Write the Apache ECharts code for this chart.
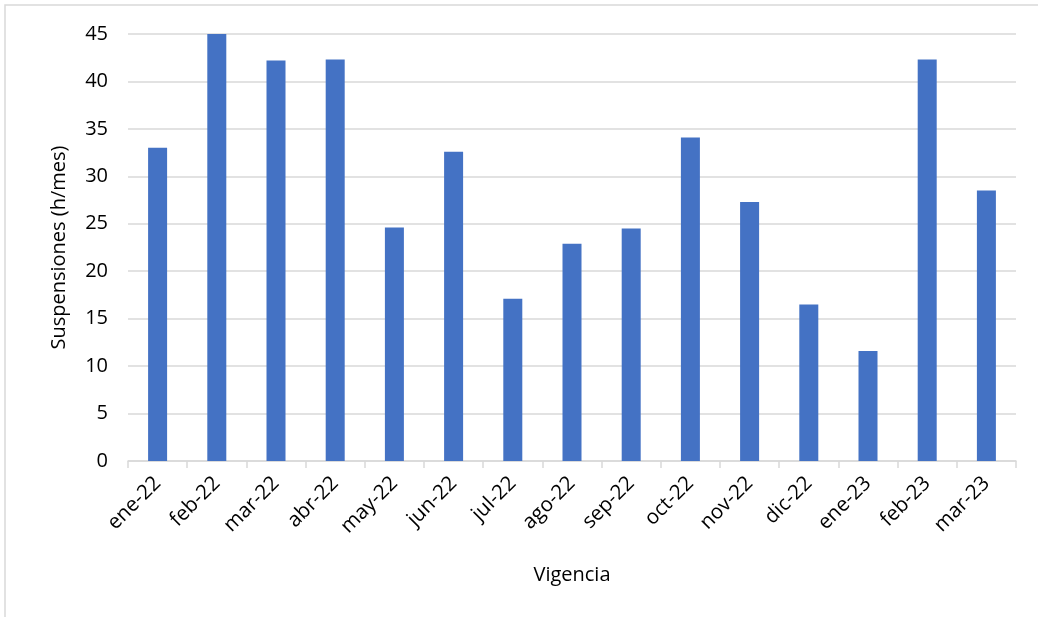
<!DOCTYPE html>
<html><head><meta charset="utf-8">
<script src="https://cdn.jsdelivr.net/npm/echarts@6/dist/echarts.min.js"></script>
<style>html,body{margin:0;padding:0;background:#fff}#c{width:1038px;height:617px}</style>
</head><body><div id="c"></div>
<script>
const categories = ['ene-22','feb-22','mar-22','abr-22','may-22','jun-22','jul-22','ago-22','sep-22','oct-22','nov-22','dic-22','ene-23','feb-23','mar-23'];
const suspensiones = [33.0, 45.1, 42.2, 42.3, 24.6, 32.6, 17.1, 22.9, 24.5, 34.1, 27.3, 16.5, 11.6, 42.3, 28.5];
const yTicks = [0,5,10,15,20,25,30,35,40,45];

const chart = echarts.init(document.getElementById('c'), null, {renderer:'canvas'});
const font = 'Open Sans, Noto Sans, sans-serif';
chart.setOption({
  animation:false,
  backgroundColor:'#fff',
  graphic:[{type:'rect',shape:{x:5,y:5,width:1300,height:900},style:{fill:'none',stroke:'#d9d9d9',lineWidth:1.5},silent:true}],
  grid:{left:128,right:22,top:34,bottom:156,containLabel:false},
  xAxis:{type:'category',data:categories,
    name:'Vigencia',nameLocation:'middle',nameGap:104,
    nameTextStyle:{fontFamily:font,fontSize:20,color:'#000'},
    axisLine:{lineStyle:{color:'#d9d9d9',width:1.5}},
    axisTick:{show:true,length:7,lineStyle:{color:'#d9d9d9',width:1.5}},
    axisLabel:{rotate:45,fontFamily:font,fontSize:20.5,color:'#000',margin:19}},
  yAxis:{type:'value',min:yTicks[0],max:yTicks[yTicks.length-1],interval:5,
    name:'Suspensiones (h/mes)',nameLocation:'middle',nameGap:59,
    nameTextStyle:{fontFamily:font,fontSize:20,color:'#000'},
    axisLine:{show:false},axisTick:{show:false},
    axisLabel:{fontFamily:font,fontSize:20,color:'#000',margin:20},
    splitLine:{lineStyle:{color:'#d9d9d9',width:1.5}}},
  series:[{type:'bar',data:suspensiones,barWidth:19,itemStyle:{color:'#4472c4'}}]
});
</script></body></html>
